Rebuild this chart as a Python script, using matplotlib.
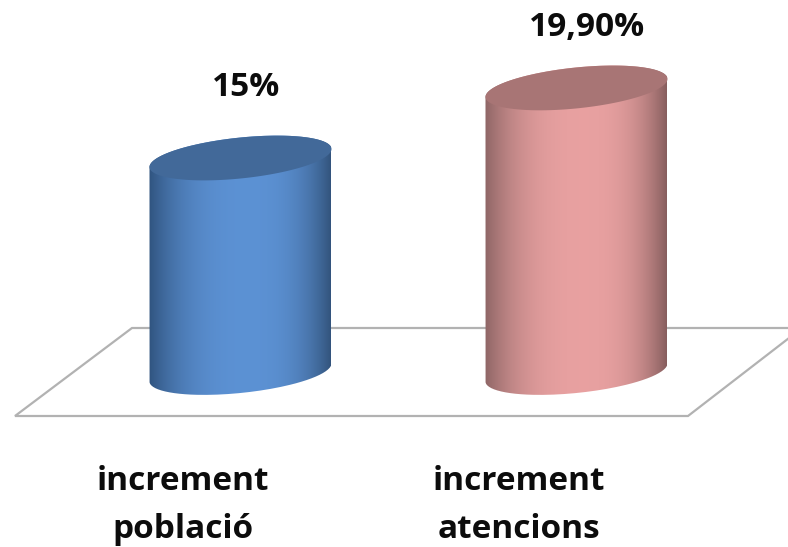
import matplotlib
matplotlib.use("Agg")
import matplotlib.pyplot as plt
from matplotlib.patches import Polygon
from matplotlib.path import Path
from matplotlib.patches import PathPatch
import numpy as np

categories = ["increment\npoblació", "increment\natencions"]
values = [15.0, 19.9]
value_labels = ["15%", "19,90%"]

plt.rcParams['font.family'] = ['Open Sans', 'DejaVu Sans']

# bar colours: centre of the side, left edge, right edge, top cap
mid = [(0.36, 0.57, 0.83), (0.91, 0.63, 0.63)]
left_edge = [(0.19, 0.33, 0.50), (0.56, 0.40, 0.40)]
right_edge = [(0.20, 0.33, 0.49), (0.53, 0.37, 0.37)]
top = [(0.26, 0.41, 0.60), (0.66, 0.46, 0.46)]

fig = plt.figure(figsize=(7.88, 5.47), dpi=100)
ax = fig.add_axes([0, 0, 1, 1])

# floor of the 3d chart
ax.add_patch(Polygon([(132, 328), (802, 328), (688, 416), (15, 416)], closed=True,
                     fc="white", ec="#b2b2b2", lw=1.6, zorder=1))

scale = 14.3  # px per percent
base_y = 372.5
centers = [240.5, 576.5]
rx, ry, tilt = 91, 20.5, 9
label_xy = [(246, 87), (587, 28)]
cat_xy = [(183, 505), (519, 505)]


def rim(c, y, a):
    # tilted ellipse, right side is higher than the left
    return c + rx * np.cos(a), y - tilt * np.cos(a) - ry * np.sin(a)


for i in range(2):
    c = centers[i]
    y1 = base_y - values[i] * scale

    # side gradient
    t = np.linspace(0, 1, 256)
    img = np.zeros((1, 256, 3))
    for k in range(3):
        d = np.where(t < 0.55, (0.55 - t) / 0.55, (t - 0.55) / 0.45) ** 2.6
        edge = np.where(t < 0.55, left_edge[i][k], right_edge[i][k])
        img[0, :, k] = mid[i][k] + (edge - mid[i][k]) * d
    im = ax.imshow(img, extent=(c - rx, c + rx, base_y + 30, y1 - 30), aspect="auto", zorder=2)

    # clip gradient to the cylinder outline
    a_top = np.linspace(0, np.pi, 80)
    a_bot = np.linspace(np.pi, 2 * np.pi, 80)
    xt, yt = rim(c, y1, a_top)
    xb, yb = rim(c, base_y, a_bot)
    outline = PathPatch(Path(np.column_stack([np.r_[xt, xb], np.r_[yt, yb]])),
                        fc="none", ec="none", transform=ax.transData)
    ax.add_patch(outline)
    im.set_clip_path(outline)

    # top cap
    a = np.linspace(0, 2 * np.pi, 160)
    cx, cy = rim(c, y1, a)
    ax.add_patch(Polygon(np.column_stack([cx, cy]), closed=True, fc=top[i], ec="none", zorder=3))

    ax.text(label_xy[i][0], label_xy[i][1], value_labels[i], ha="center", va="center",
            fontsize=24, fontweight="bold", color="#0c0c0c", zorder=4)
    ax.text(cat_xy[i][0], cat_xy[i][1], categories[i], ha="center", va="center",
            fontsize=24, fontweight="bold", color="#0c0c0c", linespacing=1.6, zorder=4)

ax.set_xlim(0, 788)
ax.set_ylim(547, 0)
ax.axis("off")
fig.savefig("out.png", dpi=100)
